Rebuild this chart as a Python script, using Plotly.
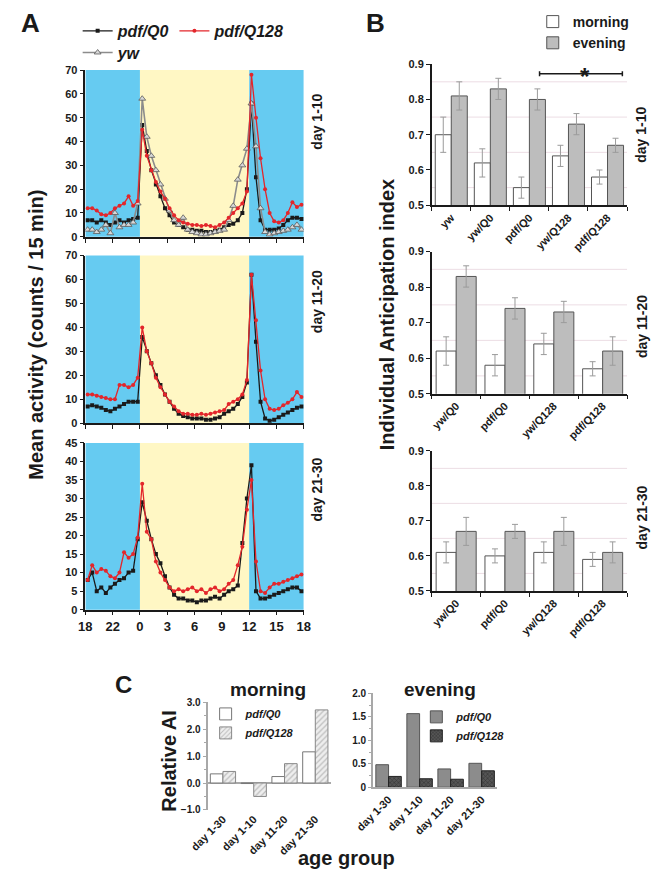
import plotly.graph_objects as go

W, H = 661, 880
FONT = "Liberation Sans, Arial, Helvetica, sans-serif"
INK = "#1a1a1a"
RED = "#e3262b"
BLUE = "#66cbf1"
YELLOW = "#fff7c4"

# ---- panel A: mean activity, 30-min bins (hours relative to lights on) ----
hours = [-5.75, -5.25, -4.75, -4.25, -3.75, -3.25, -2.75, -2.25, -1.75, -1.25, -0.75, -0.25,
         0.25, 0.75, 1.25, 1.75, 2.25, 2.75, 3.25, 3.75, 4.25, 4.75, 5.25, 5.75,
         6.25, 6.75, 7.25, 7.75, 8.25, 8.75, 9.25, 9.75, 10.25, 10.75, 11.25, 11.75,
         12.25, 12.75, 13.25, 13.75, 14.25, 14.75, 15.25, 15.75, 16.25, 16.75, 17.25, 17.75]
hour_ticks = [-6, -3, 0, 3, 6, 9, 12, 15, 18]
hour_labels = ["18", "22", "0", "3", "6", "9", "12", "15", "18"]

q0_d1_10 = [7, 7, 6, 7, 6, 5, 6, 7, 6, 7, 7.5, 8,
            47, 36, 28, 22, 17, 12, 9, 6, 5, 4, 3, 3,
            2.5, 2.5, 2, 2, 2.5, 3, 4, 5, 5.5, 7, 10, 20,
            56, 25, 7, 3, 3, 3, 3.5, 5, 7, 8, 8, 7.5]
q128_d1_10 = [12, 12, 11, 9.5, 9, 10, 12, 13, 14, 17, 13, 15,
              45, 34, 28, 23, 19, 16, 12, 9, 7, 6, 5.5, 5,
              5, 4.5, 5, 4.5, 4, 5, 6, 8, 10, 12, 14, 19,
              68, 50, 33, 20, 10, 6.5, 6, 7, 10, 14.5, 12.5, 13.5]
yw_d1_10 = [3, 3, 2, 3, 5, 1.5, 10, 4, 5, 5, 6, 14,
            58, 42, 34, 28, 22, 16, 11, 7, 5, 8, 3, 2,
            1.5, 1, 1, 1.5, 2, 2.5, 3, 7, 13, 24, 30, 37,
            56, 38, 12, 2, 1, 1.5, 2, 2.5, 3, 4, 5, 3]

q0_d11_20 = [7, 7.5, 7, 6.5, 5.5, 5, 6, 7, 8, 9, 9, 9,
             36, 30, 25, 20, 16, 12, 9, 6, 4, 3, 2.5, 2,
             2, 2, 1.5, 1.5, 2, 2.5, 4, 5, 6, 8, 11, 17,
             62, 34, 9, 2, 1, 1.5, 2.5, 3.5, 4.5, 5.5, 6.5, 7]
q128_d11_20 = [12, 12, 11.5, 11, 10.5, 10, 10, 16, 16, 15, 16, 19,
               40, 30, 25, 19, 15, 12, 9, 7, 5, 4, 4, 3.5,
               3.5, 4, 3.5, 4, 4.5, 5, 5.5, 8, 9, 10, 12, 18,
               62, 43, 22, 10, 6, 5.5, 6, 7.5, 8.5, 10, 13, 11]

q0_d21_30 = [8, 10, 5, 6, 4.5, 6, 7, 8, 8.5, 10, 10.5, 19,
             29, 24, 19, 15, 12.5, 9, 6, 4, 3, 3, 2.5, 2.5,
             2, 2.5, 2.5, 3, 3.5, 3, 4, 5, 5.5, 6.5, 18, 30,
             39, 5, 3, 3, 3.5, 4, 4.5, 5, 5.5, 6, 6, 5]
q128_d21_30 = [8, 12, 10, 11, 10.5, 9, 8.5, 10, 15.5, 14, 15, 19.5,
               34, 21, 19, 13, 10, 8, 6, 5, 5.5, 5, 5.5, 6,
               5, 5.5, 4.5, 5.5, 6, 5, 5.5, 7, 8, 12, 17, 27,
               35, 13, 5, 4.5, 6, 7, 7, 7.5, 8, 8.5, 9, 9.5]

# ---- panel B: individual anticipation index ----
geno_d1_10 = ["yw", "yw/Q0", "pdf/Q0", "yw/Q128", "pdf/Q128"]
geno = ["yw/Q0", "pdf/Q0", "yw/Q128", "pdf/Q128"]
morning_d1_10 = [0.70, 0.62, 0.55, 0.64, 0.58]
morning_d1_10_err = [0.05, 0.04, 0.03, 0.03, 0.02]
evening_d1_10 = [0.81, 0.83, 0.80, 0.73, 0.67]
evening_d1_10_err = [0.04, 0.03, 0.03, 0.03, 0.02]
morning_d11_20 = [0.62, 0.58, 0.64, 0.57]
morning_d11_20_err = [0.04, 0.03, 0.03, 0.02]
evening_d11_20 = [0.83, 0.74, 0.73, 0.62]
evening_d11_20_err = [0.03, 0.03, 0.03, 0.04]
morning_d21_30 = [0.61, 0.60, 0.61, 0.59]
morning_d21_30_err = [0.03, 0.02, 0.03, 0.02]
evening_d21_30 = [0.67, 0.67, 0.67, 0.61]
evening_d21_30_err = [0.04, 0.02, 0.04, 0.03]

# ---- panel C: relative AI ----
age_groups = ["day 1-30", "day 1-10", "day 11-20", "day 21-30"]
rel_morning_q0 = [0.34, -0.02, 0.24, 1.16]
rel_morning_q128 = [0.43, -0.50, 0.72, 2.72]
rel_evening_q0 = [0.48, 1.57, 0.39, 0.51]
rel_evening_q128 = [0.23, 0.18, 0.17, 0.35]


def dom_x(left, right):
    return [left / W, right / W]


def dom_y(top, bottom):
    return [1 - bottom / H, 1 - top / H]


def bold(size, **kw):
    return dict(family=FONT, size=size, color=INK, weight="bold", **kw)


fig = go.Figure()

# panel A traces
panel_a = [("x", "y", q0_d1_10, q128_d1_10, yw_d1_10),
           ("x2", "y2", q0_d11_20, q128_d11_20, None),
           ("x3", "y3", q0_d21_30, q128_d21_30, None)]
for i, (xa, ya, q0, q128, yw) in enumerate(panel_a):
    fig.add_trace(go.Scatter(x=hours, y=q0, xaxis=xa, yaxis=ya, mode="lines+markers",
                             name="pdf/Q0", legend="legend", showlegend=i == 0,
                             line=dict(color=INK, width=1.3),
                             marker=dict(symbol="square", size=4, color=INK)))
    if yw is not None:
        fig.add_trace(go.Scatter(x=hours, y=yw, xaxis=xa, yaxis=ya, mode="lines+markers",
                                 name="yw", legend="legend5",
                                 line=dict(color="#8c8c8c", width=1.6),
                                 marker=dict(symbol="triangle-up", size=6, color="#d8d8d8",
                                             line=dict(color="#5a5a5a", width=0.8))))
    fig.add_trace(go.Scatter(x=hours, y=q128, xaxis=xa, yaxis=ya, mode="lines+markers",
                             name="pdf/Q128", legend="legend", showlegend=i == 0,
                             line=dict(color=RED, width=1.3),
                             marker=dict(symbol="circle", size=4, color=RED)))

# panel B traces
panel_b = [("x4", "y4", geno_d1_10, morning_d1_10, morning_d1_10_err, evening_d1_10, evening_d1_10_err),
           ("x5", "y5", geno, morning_d11_20, morning_d11_20_err, evening_d11_20, evening_d11_20_err),
           ("x6", "y6", geno, morning_d21_30, morning_d21_30_err, evening_d21_30, evening_d21_30_err)]
for i, (xa, ya, cats, mo, mo_err, ev, ev_err) in enumerate(panel_b):
    err = dict(type="data", color="#9b9b9b", thickness=1, width=3)
    fig.add_trace(go.Bar(x=cats, y=mo, xaxis=xa, yaxis=ya, name="morning", legend="legend2",
                         showlegend=i == 0, marker=dict(color="white", line=dict(color="#555", width=1)),
                         error_y=dict(array=mo_err, **err)))
    fig.add_trace(go.Bar(x=cats, y=ev, xaxis=xa, yaxis=ya, name="evening", legend="legend2",
                         showlegend=i == 0, marker=dict(color="#bdbdbd", line=dict(color="#555", width=1)),
                         error_y=dict(array=ev_err, **err)))

# panel C traces
fig.add_trace(go.Bar(x=age_groups, y=rel_morning_q0, xaxis="x7", yaxis="y7", name="pdf/Q0",
                     legend="legend3", marker=dict(color="white", line=dict(color="#777", width=1))))
fig.add_trace(go.Bar(x=age_groups, y=rel_morning_q128, xaxis="x7", yaxis="y7", name="pdf/Q128",
                     legend="legend3",
                     marker=dict(color="#e8e8e8", line=dict(color="#888", width=1),
                                 pattern=dict(shape="/", fgcolor="#8a8a8a", bgcolor="#eeeeee",
                                              size=4, solidity=0.3))))
fig.add_trace(go.Bar(x=age_groups, y=rel_evening_q0, xaxis="x8", yaxis="y8", name="pdf/Q0",
                     legend="legend4", marker=dict(color="#8c8c8c", line=dict(color="#555", width=1))))
fig.add_trace(go.Bar(x=age_groups, y=rel_evening_q128, xaxis="x8", yaxis="y8", name="pdf/Q128",
                     legend="legend4",
                     marker=dict(color="#444", line=dict(color="#222", width=1),
                                 pattern=dict(shape="x", fgcolor="#1c1c1c", bgcolor="#555555",
                                              size=3, solidity=0.4))))

shapes = []
for xa, ya in [("x", "y"), ("x2", "y2"), ("x3", "y3")]:
    for x0, x1, col in [(-6, 0, BLUE), (0, 12, YELLOW), (12, 18, BLUE)]:
        shapes.append(dict(type="rect", xref=xa, yref=f"{ya} domain", x0=x0, x1=x1, y0=0, y1=1,
                           fillcolor=col, line_width=0, layer="below"))
for xa, ya in [("x4", "y4"), ("x5", "y5"), ("x6", "y6")]:
    for g in [0.55, 0.65, 0.75, 0.85]:
        shapes.append(dict(type="line", xref=f"{xa} domain", yref=ya, x0=0, x1=1, y0=g, y1=g,
                           line=dict(color="#ecdde4", width=1), layer="below"))
# significance bracket
shapes.append(dict(type="line", xref="x4", yref="y4", x0=2.26, x1=4.38, y0=0.873, y1=0.873,
                   line=dict(color=INK, width=1.5)))
for xb in [2.26, 4.38]:
    shapes.append(dict(type="line", xref="x4", yref="y4", x0=xb, x1=xb, y0=0.866, y1=0.88,
                       line=dict(color=INK, width=1.5)))

lin_axis = dict(showgrid=False, zeroline=False, showline=True, linecolor=INK, linewidth=1.5,
                ticks="outside", ticklen=4, tickwidth=1.2, tickcolor=INK)

layout_axes = {}
a_rows = [(65, 234, [0, 70], 10), (253, 423, [0, 70], 10), (443, 612, [0, 45], 5)]
for i, (top, bottom, rng, dt) in enumerate(a_rows):
    n = "" if i == 0 else str(i + 1)
    layout_axes[f"xaxis{n}"] = dict(lin_axis, domain=dom_x(70, 297), anchor=f"y{n}", range=[-6, 18],
                                    tickvals=hour_ticks, ticktext=hour_labels,
                                    showticklabels=i == 2, tickfont=bold(13))
    layout_axes[f"yaxis{n}"] = dict(lin_axis, domain=dom_y(top, bottom), anchor=f"x{n}", range=rng,
                                    dtick=dt, tickfont=bold(11))

b_rows = [(59, 202), (249, 393), (451, 593)]
for i, (top, bottom) in enumerate(b_rows):
    n = str(i + 4)
    layout_axes[f"xaxis{n}"] = dict(lin_axis, domain=dom_x(430, 633), anchor=f"y{n}", type="category",
                                    tickson="boundaries", tickangle=-45, tickfont=bold(11))
    layout_axes[f"yaxis{n}"] = dict(lin_axis, domain=dom_y(top, bottom), anchor=f"x{n}",
                                    range=[0.5, 0.9], dtick=0.1, tickformat=".1f", tickfont=bold(11))

gray_axis = dict(showgrid=False, showline=True, linecolor="#a8a8a8", linewidth=2, ticks="outside",
                 ticklen=3, tickcolor="#a8a8a8", tickfont=bold(10))
layout_axes["xaxis7"] = dict(domain=dom_x(197, 325), anchor="y7", type="category", tickangle=-45,
                             showline=False, ticks="", tickfont=bold(11))
layout_axes["yaxis7"] = dict(gray_axis, domain=dom_y(706, 815), anchor="x7", range=[-1, 3],
                             tickvals=[-1, 0, 1, 2, 3], tickformat=".1f", zeroline=True,
                             zerolinecolor="#a8a8a8", zerolinewidth=1.5,
                             minor=dict(dtick=0.5, ticks="outside", ticklen=2, tickcolor="#a8a8a8"))
layout_axes["xaxis8"] = dict(domain=dom_x(369, 498), anchor="y8", type="category", tickangle=-45,
                             showline=True, linecolor="#a8a8a8", linewidth=1.5, ticks="",
                             tickfont=bold(11))
layout_axes["yaxis8"] = dict(gray_axis, domain=dom_y(697, 792), anchor="x8", range=[0, 2],
                             tickvals=[0, 0.5, 1, 1.5, 2], ticktext=["0", "0.5", "1.0", "1.5", "2.0"],
                             zeroline=False,
                             minor=dict(dtick=0.25, ticks="outside", ticklen=2, tickcolor="#a8a8a8"))


def note(text, x, y, size, angle=0, yanchor="middle"):
    return dict(text=text, x=x / W, y=1 - y / H, xref="paper", yref="paper", showarrow=False,
                textangle=angle, xanchor="center", yanchor=yanchor, font=bold(size))


annotations = [
    note("A", 13, 17, 26), note("B", 372, 17, 26), note("C", 110, 688, 24),
    note("Mean activity (counts / 15 min)", 19, 333, 20, -90),
    note("Individual Anticipation index", 383, 313, 20, -90),
    note("Relative AI", 156, 765, 20, -90),
    note("age group", 341, 864, 20),
    note("morning", 260, 693, 19), note("evening", 439, 693, 19),
    note("day 1-10", 311, 117, 14, -90), note("day 11-20", 311, 300, 14, -90),
    note("day 21-30", 311, 490, 14, -90),
    note("day 1-10", 648, 130, 14, -90), note("day 11-20", 648, 325, 14, -90),
    note("day 21-30", 648, 518, 14, -90),
    note("*", 589, 56, 24, yanchor="top"),
]

legend_common = dict(bgcolor="rgba(0,0,0,0)", borderwidth=0, xanchor="left", yanchor="top")
fig.update_layout(
    width=W, height=H, autosize=False,
    margin=dict(l=0, r=0, t=0, b=0),
    paper_bgcolor="white", plot_bgcolor="rgba(0,0,0,0)",
    font=dict(family=FONT, color=INK),
    barmode="group", bargap=0.18, bargroupgap=0,
    shapes=shapes, annotations=annotations,
    legend=dict(legend_common, x=62 / W, y=1 - 8 / H, orientation="h",
                font=bold(16, style="italic")),
    legend5=dict(legend_common, x=62 / W, y=1 - 30 / H, orientation="h",
                 font=bold(16, style="italic")),
    legend2=dict(legend_common, x=535 / W, y=1.0, font=bold(14), tracegroupgap=0),
    legend3=dict(legend_common, x=195 / W, y=1 - 703 / H, font=bold(11, style="italic")),
    legend4=dict(legend_common, x=414 / W, y=1 - 706 / H, font=bold(11, style="italic")),
    **layout_axes,
)

fig.write_html("out.html", config={"displayModeBar": False},
               post_script="document.body.style.margin = '0px';")
